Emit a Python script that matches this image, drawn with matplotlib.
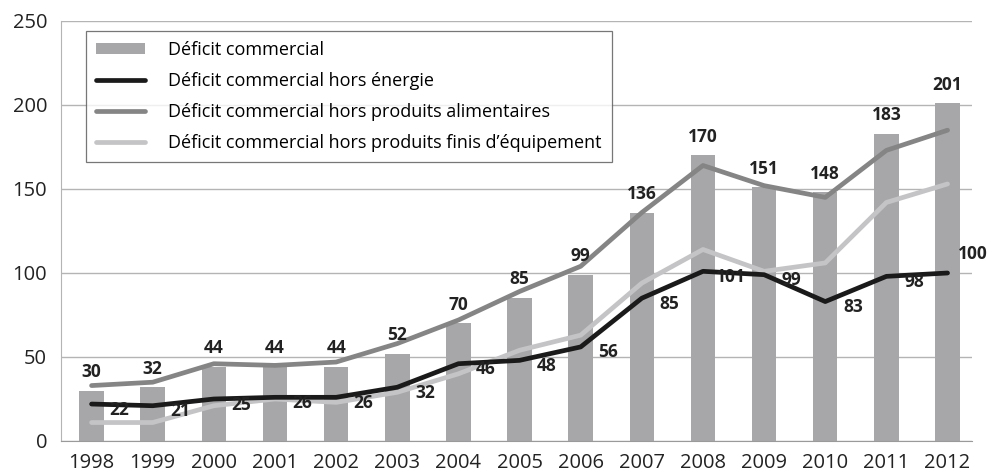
import matplotlib
matplotlib.use('Agg')
import matplotlib.pyplot as plt
import numpy as np

plt.rcParams['font.family'] = ['Open Sans', 'DejaVu Sans']

years = ['1998', '1999', '2000', '2001', '2002', '2003', '2004', '2005',
         '2006', '2007', '2008', '2009', '2010', '2011', '2012']
deficit = [30, 32, 44, 44, 44, 52, 70, 85, 99, 136, 170, 151, 148, 183, 201]
hors_energie = [22, 21, 25, 26, 26, 32, 46, 48, 56, 85, 101, 99, 83, 98, 100]
hors_alim = [33, 35, 46, 45, 47, 58, 72, 89, 104, 136, 164, 152, 145, 173, 185]
hors_equip = [11, 11, 21, 25, 23, 29, 40, 54, 63, 94, 114, 101, 106, 142, 153]

labels = ['Déficit commercial',
          'Déficit commercial hors énergie',
          'Déficit commercial hors produits alimentaires',
          'Déficit commercial hors produits finis d\u2019équipement']

fig = plt.figure(figsize=(9.89, 4.74), dpi=100)
ax = fig.add_axes([61 / 989, 1 - 441 / 474, 911 / 989, 420 / 474])

x = np.arange(len(years))
ax.bar(x, deficit, width=0.4, color='#a7a7a9', label=labels[0], zorder=2)
ax.plot(x, hors_alim, color='#858585', lw=3.4, label=labels[2], zorder=3,
        solid_capstyle='round')
ax.plot(x, hors_equip, color='#c4c4c6', lw=3.4, label=labels[3], zorder=3,
        solid_capstyle='round')
ax.plot(x, hors_energie, color='#1a1a1a', lw=3.4, label=labels[1], zorder=4,
        solid_capstyle='round')

# étiquettes des barres
for xi, v in zip(x, deficit):
    ax.annotate(str(v), (xi, v), xytext=(0, 7), textcoords='offset points',
                ha='center', va='bottom', fontsize=12.5, fontweight='bold',
                color='#222222', zorder=5)

# étiquettes de la courbe hors énergie
for xi, v in zip(x, hors_energie):
    if xi == len(years) - 1:
        ax.annotate(str(v), (xi, v), xytext=(18, 7), textcoords='offset points',
                    ha='center', va='bottom', fontsize=12.5, fontweight='bold',
                    color='#222222', zorder=5)
    else:
        ax.annotate(str(v), (xi + 0.45, v), xytext=(0, -4),
                    textcoords='offset points', ha='center', va='center',
                    fontsize=12.5, fontweight='bold', color='#222222', zorder=5)

ax.set_xlim(-0.5, 14.4)
ax.set_ylim(0, 250)
ax.set_yticks([0, 50, 100, 150, 200, 250])
ax.set_xticks(x)
ax.set_xticklabels(years)
ax.tick_params(axis='both', length=0, labelsize=14.5, colors='#222222')
ax.tick_params(axis='y', pad=10)
ax.tick_params(axis='x', pad=9)
ax.grid(axis='y', color='#b4b4b4', lw=1.0, zorder=0)
ax.set_axisbelow(True)
for s in ['top', 'right']:
    ax.spines[s].set_visible(False)
ax.spines['left'].set_color('#b4b4b4')
ax.spines['bottom'].set_color('#9a9a9a')

h, l = ax.get_legend_handles_labels()
order = [l.index(t) for t in labels]
leg = ax.legend([h[i] for i in order], [l[i] for i in order],
                loc='upper left', bbox_to_anchor=(25 / 911, 1 - 10 / 420),
                fontsize=13, frameon=True, fancybox=False,
                edgecolor='#555555', handlelength=2.7, handleheight=0.5,
                labelspacing=0.72, borderpad=0.55, borderaxespad=0,
                handletextpad=1.3)
leg.get_frame().set_linewidth(0.9)

plt.savefig('out.png', dpi=100)
plt.close()
